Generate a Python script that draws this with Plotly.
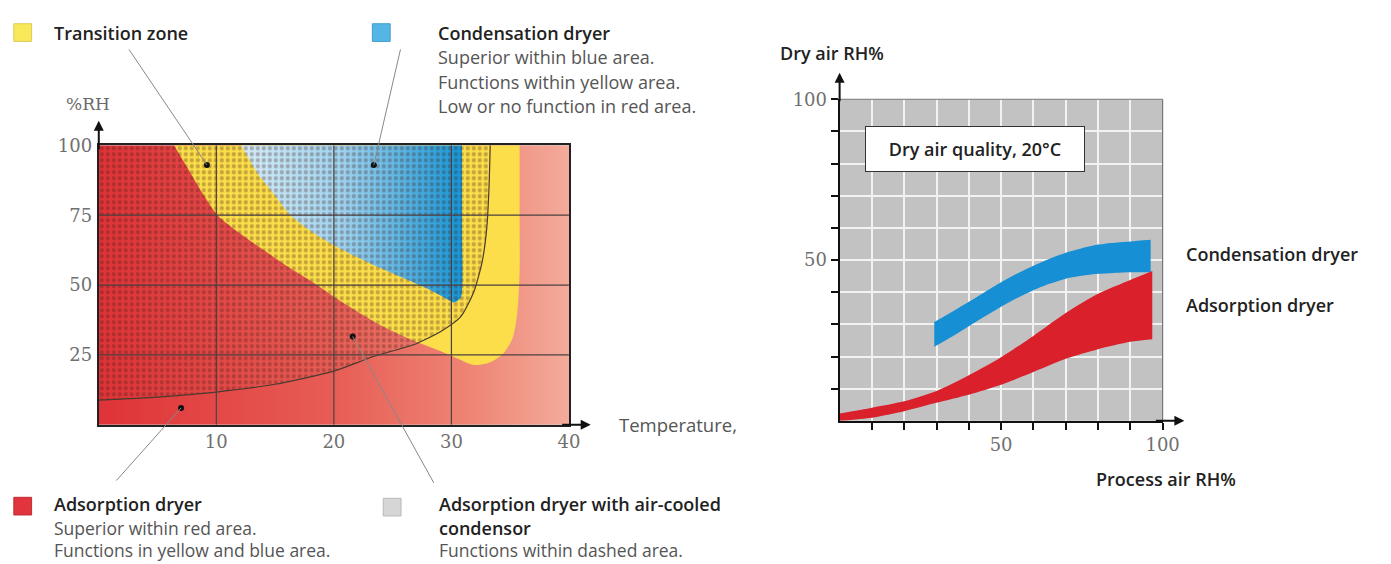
import plotly.graph_objects as go

W, H = 1391, 564

# ---------------- Left chart data (Temperature vs %RH) ----------------
T_RANGE = [0, 40]
RH_RANGE = [0, 100]
T_TICKS = [10, 20, 30, 40]
RH_TICKS = [25, 50, 75, 100]
T_GRID = [10, 20, 30]
RH_GRID = [25, 50, 75]

# Transition zone (yellow) outline
YELLOW_T = [6.4, 7.6, 8.8, 10.1, 12.0, 14.2, 16.3, 18.4, 20.3, 22.0, 23.8, 26.3, 29.1, 30.8, 31.9,
            33.0, 34.3, 35.2, 35.6, 35.8, 35.8, 35.8]
YELLOW_RH = [100, 91.5, 83, 75, 68.5, 62, 56, 50.5, 45, 40.5, 36, 31, 26.3, 23.2, 21.4,
             21.9, 25, 31, 40, 55, 75, 100]

# Condensation dryer (blue) outline
BLUE_T = [12.1, 13.5, 15.0, 16.3, 18.5, 21.0, 24.0, 26.2, 27.8, 29.2, 30.2, 30.8, 30.9, 30.9]
BLUE_RH = [100, 90, 82, 75, 68, 62, 56, 52, 49, 46, 43.8, 45.5, 70, 100]

# Adsorption dryer with air-cooled condensor (dashed area) boundary curve
DASH_T = [0, 5, 10, 15, 20, 23.5, 26.9, 29.1, 30.8, 31.9, 32.6, 33.0, 33.2, 33.3]
DASH_RH = [8.8, 9.9, 11.7, 14.5, 19.2, 24.6, 28.8, 33.4, 38.7, 47.5, 58, 70, 85, 100]

# Leader-line target dots
MARK_T = [9.2, 23.4, 7.0, 21.6]
MARK_RH = [93, 93, 6, 31.6]

# ---------------- Right chart data (Process air RH% vs Dry air RH%) ----------------
PA_RANGE = [0, 100]
DA_RANGE = [0, 100]
R_TICKS = [10, 20, 30, 40, 50, 60, 70, 80, 90, 100]
R_TICKTEXT = ['', '', '', '', '50', '', '', '', '', '100']

COND_X = [29.3, 35, 40, 45, 50, 55, 60, 65, 70, 75, 80, 85, 90, 96.3]
COND_TOP = [30.7, 34.0, 37.0, 40.1, 43.1, 45.8, 48.2, 50.4, 52.3, 53.7, 54.8, 55.4, 55.8, 56.3]
COND_BOT = [23.0, 26.3, 29.4, 32.5, 35.5, 38.2, 40.6, 42.6, 44.2, 45.1, 45.7, 46.0, 46.2, 46.2]

ADS_X = [0, 10, 20, 30, 40, 50, 60, 70, 80, 90, 96.8]
ADS_TOP = [2.3, 4.1, 6.1, 9.3, 14.2, 19.8, 26.4, 33.5, 39.5, 43.8, 46.6]
ADS_BOT = [0.0, 1.0, 3.0, 5.6, 8.1, 11.2, 15.2, 19.3, 22.3, 24.6, 25.4]


def px(xp):
    return xp / W


def py(yp):
    return 1 - yp / H


SANS = "Open Sans"
SERIF = "DejaVu Serif"
DARK = "#222222"
GREY = "#555555"
FS = 18

fig = go.Figure()

# --- left: background gradient
fig.add_trace(go.Scatter(
    x=[T_RANGE[0], T_RANGE[1], T_RANGE[1], T_RANGE[0], T_RANGE[0]],
    y=[RH_RANGE[0], RH_RANGE[0], RH_RANGE[1], RH_RANGE[1], RH_RANGE[0]],
    fill='toself', mode='lines', line=dict(width=0),
    fillgradient=dict(type='horizontal',
                      colorscale=[[0, '#df3338'], [0.5, '#e75d55'], [0.8, '#ee8676'], [1, '#f4ab9b']]),
    hoverinfo='skip', showlegend=False, xaxis='x', yaxis='y'))

# yellow
fig.add_trace(go.Scatter(
    x=YELLOW_T, y=YELLOW_RH, fill='toself', mode='lines',
    line=dict(width=0, shape='spline', smoothing=0.8), fillcolor='#fbde4a',
    hoverinfo='skip', showlegend=False, xaxis='x', yaxis='y'))

# blue
fig.add_trace(go.Scatter(
    x=BLUE_T, y=BLUE_RH, fill='toself', mode='lines',
    line=dict(width=0, shape='spline', smoothing=0.6),
    fillgradient=dict(type='horizontal',
                      colorscale=[[0, '#d4ecf8'], [0.45, '#9fd4f0'], [1, '#1595d6']]),
    hoverinfo='skip', showlegend=False, xaxis='x', yaxis='y'))

# dashed area
dash_x = [T_RANGE[0]] + DASH_T + [T_RANGE[0]]
dash_y = [RH_RANGE[1]] + DASH_RH + [RH_RANGE[1]]
fig.add_trace(go.Scatter(
    x=dash_x, y=dash_y, fill='toself', mode='lines',
    line=dict(width=0), fillcolor='rgba(0,0,0,0)',
    fillpattern=dict(shape='.', size=6, solidity=0.4,
                     fgcolor='rgba(70,25,20,0.6)', bgcolor='rgba(0,0,0,0)'),
    hoverinfo='skip', showlegend=False, xaxis='x', yaxis='y'))

# dashed boundary line
fig.add_trace(go.Scatter(
    x=DASH_T, y=DASH_RH, mode='lines',
    line=dict(width=1.2, color='#4a3a30', shape='spline', smoothing=0.6),
    hoverinfo='skip', showlegend=False, xaxis='x', yaxis='y'))

# grid lines (above fills)
gx, gy = [], []
for t in T_GRID:
    gx += [t, t, None]
    gy += [RH_RANGE[0], RH_RANGE[1], None]
for r in RH_GRID:
    gx += [T_RANGE[0], T_RANGE[1], None]
    gy += [r, r, None]
fig.add_trace(go.Scatter(x=gx, y=gy, mode='lines', line=dict(width=1.2, color='#4b4040'),
                         hoverinfo='skip', showlegend=False, xaxis='x', yaxis='y'))

# dots
fig.add_trace(go.Scatter(x=MARK_T, y=MARK_RH, mode='markers',
                         marker=dict(size=6, color='#111111'),
                         hoverinfo='skip', showlegend=False, xaxis='x', yaxis='y'))

# --- right: bands (lower edge, then upper edge filled to it)
for xs, bot, top, col in [(COND_X, COND_BOT, COND_TOP, '#168fd5'),
                          (ADS_X, ADS_BOT, ADS_TOP, '#d9202b')]:
    fig.add_trace(go.Scatter(
        x=xs, y=bot, mode='lines', line=dict(width=0, shape='spline', smoothing=0.7),
        hoverinfo='skip', showlegend=False, xaxis='x2', yaxis='y2'))
    fig.add_trace(go.Scatter(
        x=xs, y=top, mode='lines', fill='tonexty', fillcolor=col,
        line=dict(width=0, shape='spline', smoothing=0.7),
        hoverinfo='skip', showlegend=False, xaxis='x2', yaxis='y2'))

tickfont = dict(family=SERIF, size=18, color='#707070')

fig.update_layout(
    width=W, height=H, margin=dict(l=0, r=0, t=0, b=0),
    paper_bgcolor='white', plot_bgcolor='#c2c2c3',
    xaxis=dict(domain=[px(100), px(576)], range=T_RANGE, tickvals=T_TICKS,
               showgrid=False, zeroline=False, showline=True, mirror=True,
               linecolor='#222', linewidth=2, layer='above traces', ticks='',
               tickfont=tickfont, anchor='y'),
    yaxis=dict(domain=[py(422), py(137)], range=RH_RANGE, tickvals=RH_TICKS,
               showgrid=False, zeroline=False, showline=True, mirror=True,
               linecolor='#222', linewidth=2, layer='above traces', ticks='',
               tickfont=tickfont, anchor='x', ticklabelstandoff=1),
    xaxis2=dict(domain=[px(850), px(1177)], range=PA_RANGE, tickvals=R_TICKS,
                ticktext=R_TICKTEXT, showgrid=True, gridcolor='#f2f2f2', gridwidth=1.5,
                zeroline=False, showline=True, linecolor='#111', linewidth=2,
                ticks='outside', ticklen=7, tickwidth=2, tickcolor='#111',
                layer='above traces', tickfont=tickfont, anchor='y2'),
    yaxis2=dict(domain=[py(418), py(90)], range=DA_RANGE, tickvals=R_TICKS,
                ticktext=R_TICKTEXT, showgrid=True, gridcolor='#f2f2f2', gridwidth=1.5,
                zeroline=False, showline=True, linecolor='#111', linewidth=2,
                ticks='outside', ticklen=7, tickwidth=2, tickcolor='#111',
                layer='above traces', tickfont=tickfont, anchor='x2'),
)

shapes = []
shapes.append(dict(type='line', xref='x2 domain', yref='y2 domain', x0=0, x1=1, y0=1, y1=1,
                   line=dict(color='#777', width=1.2)))
shapes.append(dict(type='line', xref='x2 domain', yref='y2 domain', x0=1, x1=1, y0=0, y1=1,
                   line=dict(color='#777', width=1.2)))


def sq(x0, y0, s, fill, border):
    return dict(type='rect', xref='paper', yref='paper', x0=px(x0), x1=px(x0 + s),
                y0=py(y0 + s), y1=py(y0), fillcolor=fill, line=dict(color=border, width=1))


shapes.append(sq(14, 13, 18, '#f8e85a', '#d9cc55'))
shapes.append(sq(377, 13, 18, '#55b6e6', '#3d9ccc'))
shapes.append(sq(14, 496, 18, '#e0353d', '#c02a30'))
shapes.append(sq(388, 497, 18, '#d6d6d6', '#b8b8b8'))
fig.update_layout(shapes=shapes)

ann = []


def txt(x, y, s, color=DARK, size=FS, weight='normal', family=SANS):
    ann.append(dict(xref='paper', yref='paper', x=px(x), y=py(y), text=s, showarrow=False,
                    xanchor='left', yanchor='middle',
                    font=dict(family=family, size=size, color=color, weight=weight)))


txt(53, 22, 'Transition zone', weight=600)
txt(441, 22, 'Condensation dryer', weight=600)
txt(441, 47, 'Superior within blue area.', color=GREY)
txt(441, 72, 'Functions within yellow area.', color=GREY)
txt(441, 97, 'Low or no function in red area.', color=GREY)
txt(53, 503, 'Adsorption dryer', weight=600)
txt(53, 527, 'Superior within red area.', color=GREY, size=17.5)
txt(53, 550, 'Functions in yellow and blue area.', color=GREY, size=17.5)
txt(442, 503, 'Adsorption dryer with air-cooled', weight=600)
txt(442, 527, 'condensor', weight=600)
txt(442, 550, 'Functions within dashed area.', color=GREY, size=17.5)
txt(65, 95, '%RH', color='#6a6a6a', size=17, family=SERIF)
txt(625, 422, 'Temperature,', color=GREY, size=18.5)

txt(788, 43, 'Dry air RH%', weight=600)
txt(1108, 477, 'Process air RH%', weight=600)
txt(1199, 248, 'Condensation dryer', weight=600)
txt(1199, 300, 'Adsorption dryer', weight=600)

ann.append(dict(xref='x2', yref='y2', x=41.9, y=84.5, text='Dry air quality, 20°C',
                showarrow=False, bgcolor='white', bordercolor='#333', borderwidth=1,
                width=214, height=40, borderpad=2,
                font=dict(family=SANS, size=18, color=DARK, weight=600)))

LEAD_TAILS = [(-79, -117), (27, -117), (-66, 74), (82, 148)]
for (dx, dy), t, r in zip(LEAD_TAILS, MARK_T, MARK_RH):
    ann.append(dict(xref='x', yref='y', x=t, y=r, text='', showarrow=True, arrowhead=0,
                    arrowwidth=1, arrowcolor='#888', ax=dx, ay=dy, standoff=0))


def arrow(xp, yp, dx, dy):
    ann.append(dict(xref='paper', yref='paper', x=px(xp), y=py(yp), text='', showarrow=True,
                    arrowhead=2, arrowsize=1, arrowwidth=2, arrowcolor='#111',
                    ax=dx, ay=dy))


arrow(100, 112, 0, 30)
arrow(598, 422, -30, 0)
arrow(850, 63, 0, 30)
arrow(1199, 418, -30, 0)

fig.update_layout(annotations=ann)

fig.write_html(
    "out.html",
    config={'displayModeBar': False},
    post_script=(
        "document.documentElement.style.margin='0';"
        "document.body.style.margin='0';document.body.style.padding='0';"
        "document.body.style.overflow='hidden';"
        "document.documentElement.style.overflow='hidden';"
        "var gd=document.getElementById('{plot_id}');"
        "gd.style.position='fixed';gd.style.left='0px';gd.style.top='0px';"
    ),
)
